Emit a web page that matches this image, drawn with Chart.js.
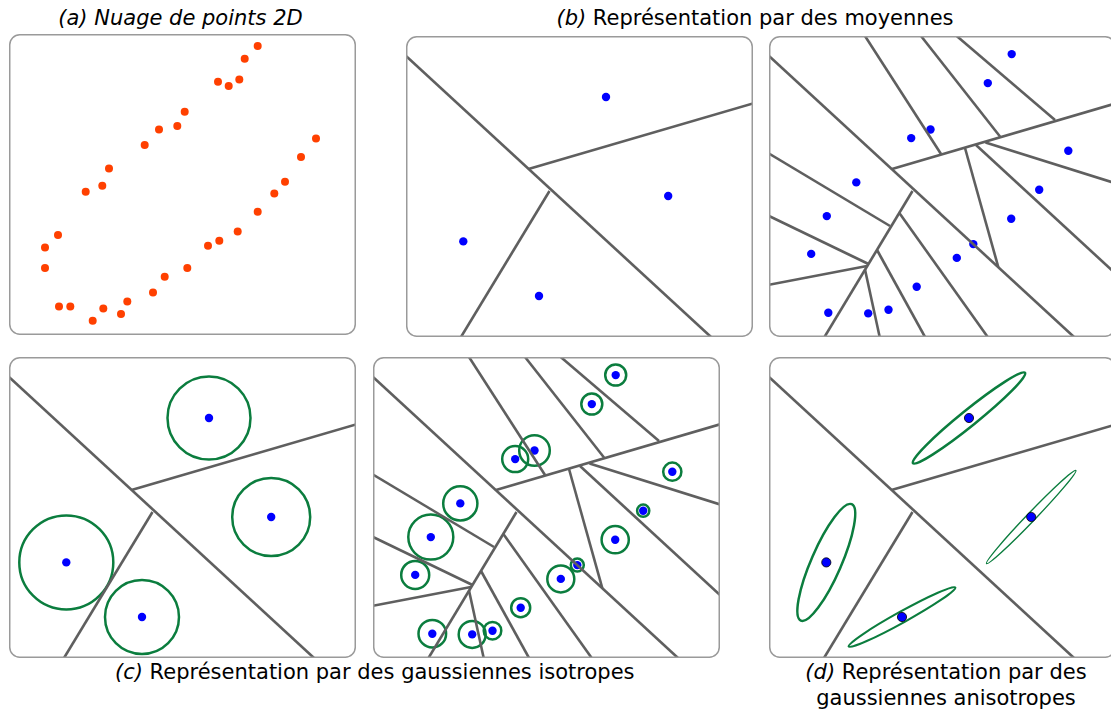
<!DOCTYPE html>
<html>
<head>
<meta charset="utf-8">
<script src="https://cdn.jsdelivr.net/npm/chart.js@4"></script>
<style>
  html, body { margin: 0; padding: 0; background: #fff; overflow: hidden; width: 1111px; height: 711px; }
  .panel { position: absolute; }
  .titre { position: absolute; font-family: "DejaVu Sans", sans-serif; font-size: 21px; color: #000;
           text-align: center; white-space: nowrap; line-height: 26px; }
  .titre i { font-style: oblique; }
</style>
</head>
<body>
<div class="titre" style="left:0; width:361px; top:5px;"><i>(a) Nuage de points 2D</i></div>
<div class="titre" style="left:555px; width:400px; top:5px;"><i>(b)</i> Représentation par des moyennes</div>
<div class="titre" style="left:115px; width:514px; top:659px;"><i>(c)</i> Représentation par des gaussiennes isotropes</div>
<div class="titre" style="left:776px; width:340px; top:659px;"><i>(d)</i> Représentation par des<br>gaussiennes anisotropes</div>

<canvas id="pa" class="panel" width="347" height="301" style="left:9px; top:34px;"></canvas>
<canvas id="pb1" class="panel" width="347" height="301" style="left:406px; top:36px;"></canvas>
<canvas id="pb2" class="panel" width="347" height="301" style="left:769px; top:36px;"></canvas>
<canvas id="pc1" class="panel" width="347" height="301" style="left:9px; top:357px;"></canvas>
<canvas id="pc2" class="panel" width="347" height="301" style="left:373px; top:357px;"></canvas>
<canvas id="pd" class="panel" width="347" height="301" style="left:769px; top:357px;"></canvas>

<script>
// coordonnees dans le repere d'un panneau (0..347 x 0..301, y vers le bas)
var nuageX = [248.7, 235.7, 230.3, 209, 219.7, 175.7, 168.3, 150, 135.7, 100, 93.3, 76.7, 49, 36, 36, 50,
              61.3, 83.7, 94.3, 112, 118.3, 144, 155.7, 178.3, 199, 210.3, 228.7, 248.7, 265.3, 276, 292, 307];
var nuageY = [12, 24.7, 45.4, 47.7, 52, 77.7, 92, 95.4, 111, 134.4, 151.7, 157.7, 201, 213.4, 234, 272.4,
              272.4, 286.7, 274.4, 280, 267.4, 258.4, 242.7, 234, 211.7, 206.7, 197.4, 177.7, 159.4, 147.7, 123, 104.4];

// 4 moyennes
var moy4X = [200, 262.2, 57.3, 133];
var moy4Y = [61, 160, 205.4, 260];
var rayons4 = [41.5, 39, 47, 37];
var frontieres4 = [
  [0, 20, 305, 301],
  [122.5, 133, 347, 67.5],
  [143.5, 155, 55, 301]
];

// 16 moyennes
var moy16X = [242.7, 218.8, 161.5, 142.2, 299.3, 270.2, 87.3, 242.2, 57.8, 204.3, 187.8, 42.2, 147.7, 59.3, 99.2, 119.5];
var moy16Y = [18.1, 47.1, 93.5, 102.1, 114.7, 153.7, 146.4, 182.7, 180.1, 208.1, 221.9, 217.9, 250.7, 276.7, 277.4, 273.7];
var rayons16 = [10.5, 10.5, 15.3, 13, 9.1, 6.1, 17.1, 13.6, 22.5, 6.5, 13.5, 14, 9.5, 13.8, 13.5, 8.8];
var frontieres16 = [
  [0, 20, 305, 301],
  [123, 133, 347, 67.3],
  [143.5, 155, 55.5, 301],
  [96, 0, 172, 118],
  [152, 0, 231, 100.5],
  [187.7, 0, 286, 84],
  [216.5, 106.5, 347, 147.4],
  [207, 109, 347, 238],
  [196, 112, 229.3, 231.2],
  [0, 117.5, 121, 190],
  [0, 180, 99.5, 228],
  [0, 248.7, 98, 230],
  [96, 233.5, 110.7, 301],
  [108.3, 214.5, 156, 301],
  [130.7, 177.5, 218.7, 301]
];

// gaussiennes anisotropes (demi-axes et angle en degres)
var demiGrandAxe = [72, 64.5, 63.5, 61];
var demiPetitAxe = [8, 4.2, 15, 5.5];
var angleAxe = [38.9, 46.2, 66.4, 29];
var epaisseurEllipse = [2.5, 1.4, 2.5, 2.1];

var VERT = "#0b7d3e";
var GRIS = "#5f5f5f";
var BLEU = "#0000ff";

var cadrePlugin = {
  id: "cadre",
  afterDraw: function (chart) {
    var ctx = chart.ctx;
    var a = chart.chartArea;
    ctx.save();
    ctx.strokeStyle = "#9a9a9a";
    ctx.lineWidth = 1.5;
    ctx.beginPath();
    ctx.roundRect(a.left + 0.75, a.top + 0.75, a.right - a.left - 1.5, a.bottom - a.top - 1.5, 10);
    ctx.stroke();
    ctx.restore();
  }
};

var ellipsesPlugin = {
  id: "ellipses",
  beforeDatasetDraw: function (chart, args, opts) {
    if (chart.data.datasets[args.index].label !== "centres") return;
    if (!opts.liste) return;
    var sx = chart.scales.x, sy = chart.scales.y;
    var kx = Math.abs(sx.getPixelForValue(1) - sx.getPixelForValue(0));
    var ky = Math.abs(sy.getPixelForValue(1) - sy.getPixelForValue(0));
    var ctx = chart.ctx;
    ctx.save();
    ctx.strokeStyle = VERT;
    opts.liste.forEach(function (e) {
      ctx.lineWidth = e.trait;
      ctx.beginPath();
      ctx.ellipse(sx.getPixelForValue(e.x), sy.getPixelForValue(e.y), e.a * kx, e.b * ky,
                  -e.angle * Math.PI / 180, 0, 2 * Math.PI);
      ctx.stroke();
    });
    ctx.restore();
  }
};

function points(xs, ys) {
  return xs.map(function (x, i) { return { x: x, y: ys[i] }; });
}

function segments(liste) {
  return liste.map(function (s) {
    return {
      label: "frontiere",
      data: [{ x: s[0], y: s[1] }, { x: s[2], y: s[3] }],
      showLine: true,
      borderColor: GRIS,
      borderWidth: 2.6,
      pointRadius: 0,
      fill: false
    };
  });
}

function centres(xs, ys, bord) {
  return {
    label: "centres",
    data: points(xs, ys),
    backgroundColor: BLEU,
    borderColor: bord ? "#000" : BLEU,
    borderWidth: bord ? 0.8 : 0,
    pointRadius: bord ? 4.6 : 4.2
  };
}

function panneau(id, datasets, ellipses) {
  return new Chart(document.getElementById(id), {
    type: "scatter",
    data: { datasets: datasets },
    options: {
      responsive: false,
      animation: false,
      events: [],
      layout: { padding: 0, autoPadding: false },
      plugins: {
        legend: { display: false },
        tooltip: { enabled: false },
        ellipses: { liste: ellipses }
      },
      scales: {
        x: { type: "linear", min: 0, max: 347, display: false },
        y: { type: "linear", min: 0, max: 301, reverse: true, display: false }
      }
    },
    plugins: [cadrePlugin, ellipsesPlugin]
  });
}

function cercles(xs, ys, rs) {
  return xs.map(function (x, i) {
    return { x: x, y: ys[i], a: rs[i], b: rs[i], angle: 0, trait: 2.5 };
  });
}

// (a)
panneau("pa", [{
  label: "nuage",
  data: points(nuageX, nuageY),
  backgroundColor: "#ff4000",
  borderWidth: 0,
  pointRadius: 4
}], null);

// (b)
panneau("pb1", segments(frontieres4).concat([centres(moy4X, moy4Y, false)]), null);
panneau("pb2", segments(frontieres16).concat([centres(moy16X, moy16Y, false)]), null);

// (c)
panneau("pc1", segments(frontieres4).concat([centres(moy4X, moy4Y, false)]), cercles(moy4X, moy4Y, rayons4));
panneau("pc2", segments(frontieres16).concat([centres(moy16X, moy16Y, false)]), cercles(moy16X, moy16Y, rayons16));

// (d)
var ellipsesD = moy4X.map(function (x, i) {
  return { x: x, y: moy4Y[i], a: demiGrandAxe[i], b: demiPetitAxe[i], angle: angleAxe[i], trait: epaisseurEllipse[i] };
});
panneau("pd", segments(frontieres4).concat([centres(moy4X, moy4Y, true)]), ellipsesD);
</script>
</body>
</html>
